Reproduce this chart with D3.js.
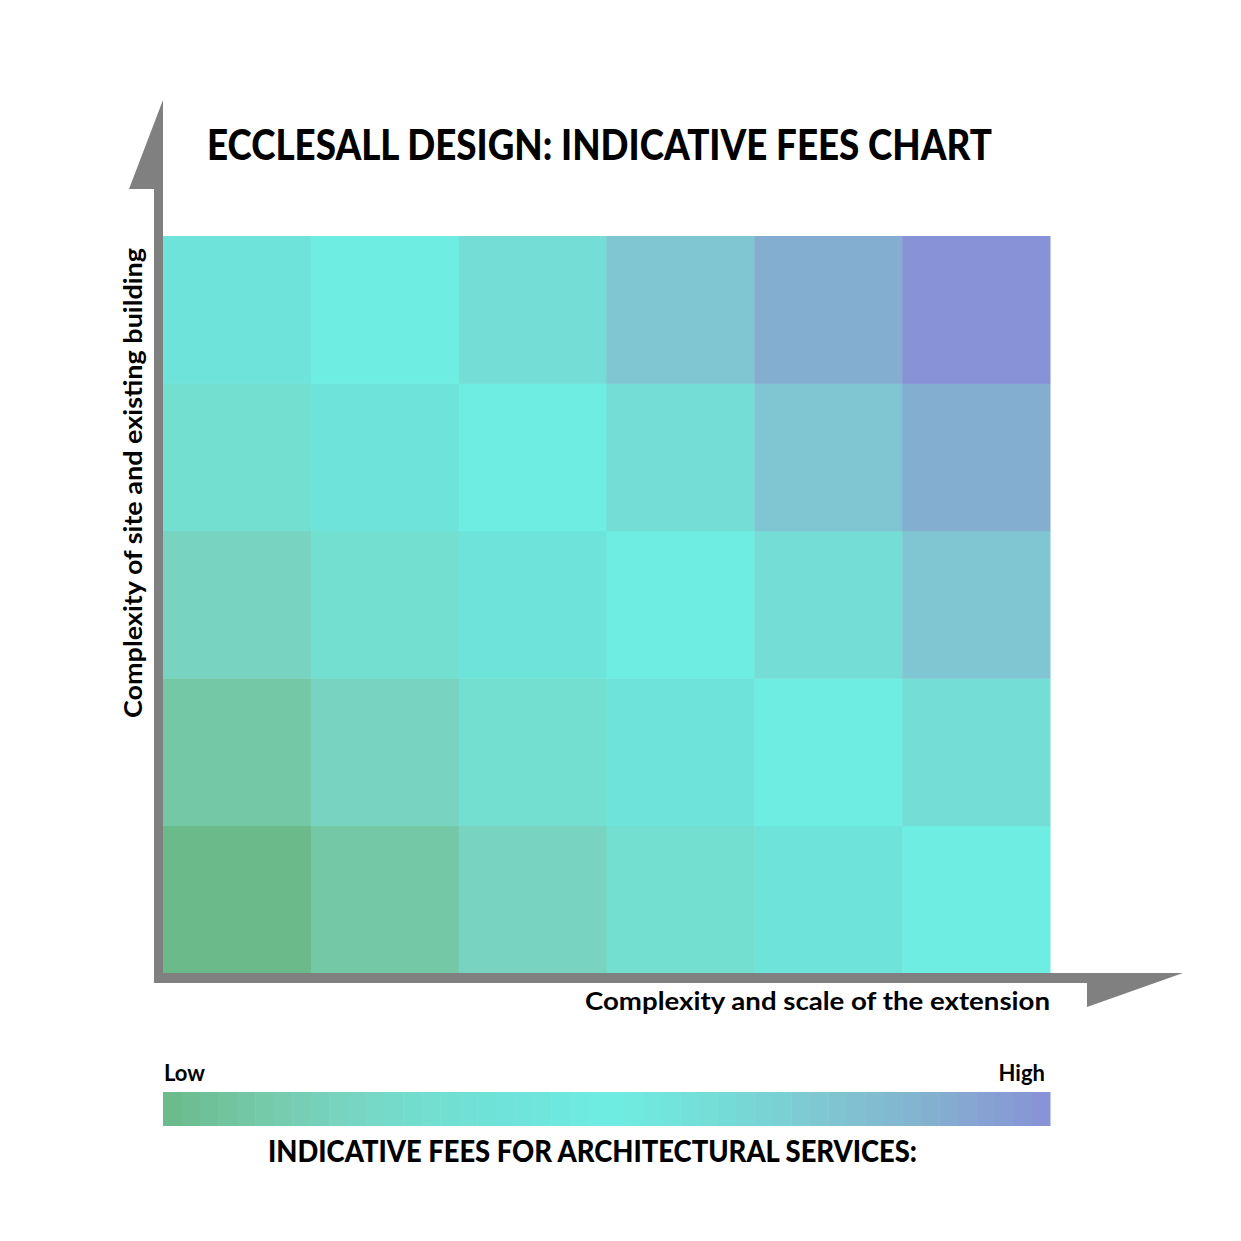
<!DOCTYPE html>
<html>
<head>
<meta charset="utf-8">
<script src="https://cdn.jsdelivr.net/npm/d3@7"></script>
<style>
  body { margin: 0; background: #fff; }
  text { font-family: "Lato", "DejaVu Sans", sans-serif; fill: #000; }
</style>
</head>
<body>
<div id="chart"></div>
<script>
// fee level per cell, rows listed bottom to top, columns left to right
var columns = [0, 1, 2, 3, 4, 5];
var rows = [0, 1, 2, 3, 4];
var feeLevels = [
    [0, 1, 2, 3, 4, 5],
    [1, 2, 3, 4, 5, 6],
    [2, 3, 4, 5, 6, 7],
    [3, 4, 5, 6, 7, 8],
    [4, 5, 6, 7, 8, 9]
];
var levelRange = [0, 9];
var legendLabels = ["Low", "High"];

var title = "ECCLESALL DESIGN: INDICATIVE FEES CHART";
var xTitle = "Complexity and scale of the extension";
var yTitle = "Complexity of site and existing building";
var legendTitle = "INDICATIVE FEES FOR ARCHITECTURAL SERVICES:";

var width = 1241, height = 1241;
var svg = d3.select("#chart").append("svg")
    .attr("width", width)
    .attr("height", height);

var gridLeft = 163, gridRight = 1050, gridTop = 236, gridBottom = 973;

var x = d3.scaleBand().domain(columns).range([gridLeft, gridRight]);
var y = d3.scaleBand().domain(rows).range([gridBottom, gridTop]);

// green -> cyan -> purple
var palette = ["#6aba8a", "#74c8a6", "#78d3c0", "#72dfd0", "#6ee3da",
               "#6eede2", "#74ddd6", "#80c6d2", "#84aecf", "#8892d6"];
var color = d3.scaleLinear()
    .domain(d3.range(palette.length))
    .range(palette);

// cells
var cells = [];
feeLevels.forEach(function(r, i) {
    r.forEach(function(v, j) {
        cells.push({ row: rows[i], col: columns[j], value: v });
    });
});

svg.append("g").selectAll("rect")
    .data(cells)
    .enter().append("rect")
    .attr("x", function(d) { return x(d.col); })
    .attr("y", function(d) { return y(d.row); })
    .attr("width", x.bandwidth() + 0.5)
    .attr("height", y.bandwidth() + 0.5)
    .attr("fill", function(d) { return color(d.value); });

// L shaped axis with half arrow heads
var axisPath = d3.path();
axisPath.moveTo(gridLeft, 100);
axisPath.lineTo(129, 189);
axisPath.lineTo(154, 189);
axisPath.lineTo(154, 983);
axisPath.lineTo(1087, 983);
axisPath.lineTo(1087, 1007);
axisPath.lineTo(1183, 973);
axisPath.lineTo(gridLeft, gridBottom);
axisPath.closePath();
svg.append("path")
    .attr("d", axisPath.toString())
    .attr("fill", "#808080");

// titles
svg.append("text")
    .attr("x", 207)
    .attr("y", 160)
    .attr("textLength", 785)
    .attr("lengthAdjust", "spacingAndGlyphs")
    .style("font-size", "42px")
    .style("font-weight", "900")
    .text(title);

svg.append("text")
    .attr("transform", "translate(142,718) rotate(-90)")
    .attr("textLength", 470)
    .attr("lengthAdjust", "spacingAndGlyphs")
    .style("font-size", "25px")
    .style("font-weight", "700")
    .text(yTitle);

svg.append("text")
    .attr("x", 585)
    .attr("y", 1010)
    .attr("textLength", 465)
    .attr("lengthAdjust", "spacingAndGlyphs")
    .style("font-size", "24px")
    .style("font-weight", "700")
    .text(xTitle);

// legend
var legendY = 1092, legendH = 34, steps = 48;
var lx = d3.scaleLinear().domain([0, steps]).range([gridLeft, gridRight]);
// cyan sits in the middle of the legend bar
var legendLevel = d3.scaleLinear().domain([0, 0.5, 1]).range([levelRange[0], 5, levelRange[1]]);

svg.append("g").selectAll("rect")
    .data(d3.range(steps))
    .enter().append("rect")
    .attr("x", function(d) { return lx(d); })
    .attr("y", legendY)
    .attr("width", lx(1) - lx(0) + 0.5)
    .attr("height", legendH)
    .attr("fill", function(d) { return color(legendLevel((d + 0.5) / steps)); });

svg.append("text")
    .attr("x", 164)
    .attr("y", 1081)
    .style("font-size", "22px")
    .style("font-weight", "700")
    .text(legendLabels[0]);

svg.append("text")
    .attr("x", 1045)
    .attr("y", 1081)
    .attr("text-anchor", "end")
    .style("font-size", "22px")
    .style("font-weight", "700")
    .text(legendLabels[1]);

svg.append("text")
    .attr("x", 268)
    .attr("y", 1162)
    .attr("textLength", 649)
    .attr("lengthAdjust", "spacingAndGlyphs")
    .style("font-size", "31px")
    .style("font-weight", "900")
    .text(legendTitle);
</script>
</body>
</html>
